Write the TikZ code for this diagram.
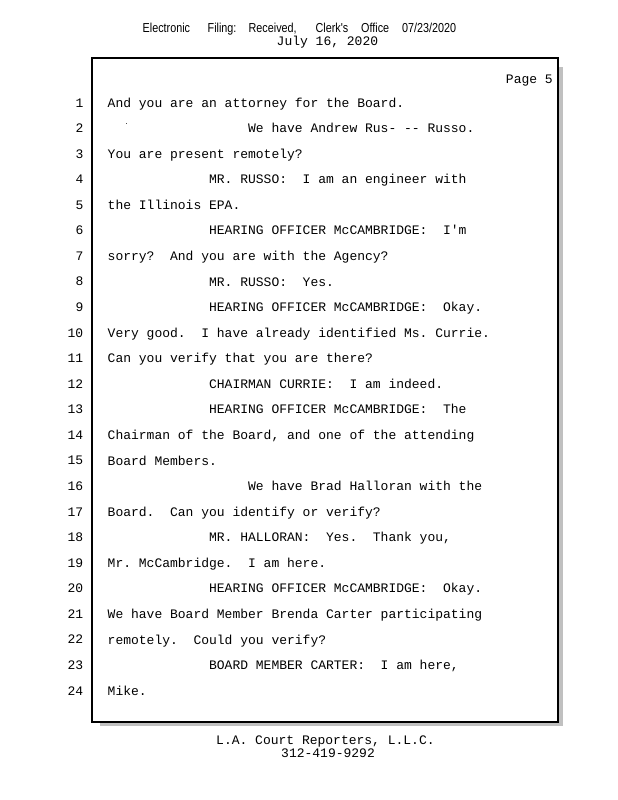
\documentclass[tikz,border=0pt]{standalone}
\usepackage{fontspec}
\usepackage{graphicx}
\setmainfont{Liberation Mono}
\newfontfamily\hdrfont{Liberation Sans}
\definecolor{shadowgray}{HTML}{C0C0C0}
\tikzset{
  ln/.style={anchor=base west, inner sep=0pt, font=\fontsize{13}{13}\selectfont},
  num/.style={anchor=base east, inner sep=0pt, font=\fontsize{13}{13}\selectfont},
  hdr/.style={anchor=base west, inner sep=0pt, font=\hdrfont\fontsize{13}{13}\selectfont},
  frame/.style={draw=black, line width=1.3pt},
  shadow/.style={fill=shadowgray, draw=none}
}
\frenchspacing
\newcommand{\hs}[1]{\scalebox{0.83}[1]{#1}}
\begin{document}
\begin{tikzpicture}[x=1pt,y=-1pt]
\useasboundingbox[fill=white] (0,0) rectangle (618,800);
% header
\node[hdr] (h1) at (142.5,32.7) {\hs{Electronic}};
\node[hdr] (h2) at (207.5,32.7) {\hs{Filing:}};
\node[hdr] (h3) at (248.5,32.7) {\hs{Received,}};
\node[hdr] (h4) at (315.5,32.7) {\hs{Clerk\textquotesingle s}};
\node[hdr] (h5) at (361,32.7) {\hs{Office}};
\node[hdr] (h6) at (402,32.7) {\hs{07/23/2020}};
\node[ln] (date) at (276.5,46) {July 16, 2020};
% shadow and frame
\fill[shadow] (559,67) rectangle (562.5,726);
\fill[shadow] (100,723) rectangle (562.5,726);
\draw[frame] (92,58) rectangle (558,722);
\node[ln, anchor=base east] (page) at (553,84) {Page 5};
% line numbers
\foreach \i in {1,...,24}{
  \node[num] (n\i) at (83.5,{107+(\i-1)*25.57}) {\i};
}
% text lines
\def\cA{107.5}
\def\cB{208.9}
\def\cC{247.9}
\node[ln] (t1) at (\cA,107) {And you are an attorney for the Board.};
\node[ln] (t2) at (\cC,132.6) {We have Andrew Rus- -{}- Russo.};
\fill[black!70] (126,122.5) rectangle (127.2,123.7);
\node[ln] (t3) at (\cA,158.1) {You are present remotely?};
\node[ln] (t4) at (\cB,183.7) {MR. RUSSO:\ \ I am an engineer with};
\node[ln] (t5) at (\cA,209.3) {the Illinois EPA.};
\node[ln] (t6) at (\cB,234.9) {HEARING OFFICER McCAMBRIDGE:\ \ I\textquotesingle m};
\node[ln] (t7) at (\cA,260.4) {sorry?\ \ And you are with the Agency?};
\node[ln] (t8) at (\cB,286.0) {MR. RUSSO:\ \ Yes.};
\node[ln] (t9) at (\cB,311.6) {HEARING OFFICER McCAMBRIDGE:\ \ Okay.};
\node[ln] (t10) at (\cA,337.1) {Very good.\ \ I have already identified Ms. Currie.};
\node[ln] (t11) at (\cA,362.7) {Can you verify that you are there?};
\node[ln] (t12) at (\cB,388.3) {CHAIRMAN CURRIE:\ \ I am indeed.};
\node[ln] (t13) at (\cB,413.8) {HEARING OFFICER McCAMBRIDGE:\ \ The};
\node[ln] (t14) at (\cA,439.4) {Chairman of the Board, and one of the attending};
\node[ln] (t15) at (\cA,465.0) {Board Members.};
\node[ln] (t16) at (\cC,490.5) {We have Brad Halloran with the};
\node[ln] (t17) at (\cA,516.1) {Board.\ \ Can you identify or verify?};
\node[ln] (t18) at (\cB,541.7) {MR. HALLORAN:\ \ Yes.\ \ Thank you,};
\node[ln] (t19) at (\cA,567.3) {Mr. McCambridge.\ \ I am here.};
\node[ln] (t20) at (\cB,592.8) {HEARING OFFICER McCAMBRIDGE:\ \ Okay.};
\node[ln] (t21) at (\cA,618.4) {We have Board Member Brenda Carter participating};
\node[ln] (t22) at (\cA,644.0) {remotely.\ \ Could you verify?};
\node[ln] (t23) at (\cB,669.5) {BOARD MEMBER CARTER:\ \ I am here,};
\node[ln] (t24) at (\cA,695.1) {Mike.};
% footer
\node[ln] (f1) at (216,744) {L.A. Court Reporters, L.L.C.};
\node[ln] (f2) at (281,757) {312-419-9292};
\end{tikzpicture}
\end{document}
